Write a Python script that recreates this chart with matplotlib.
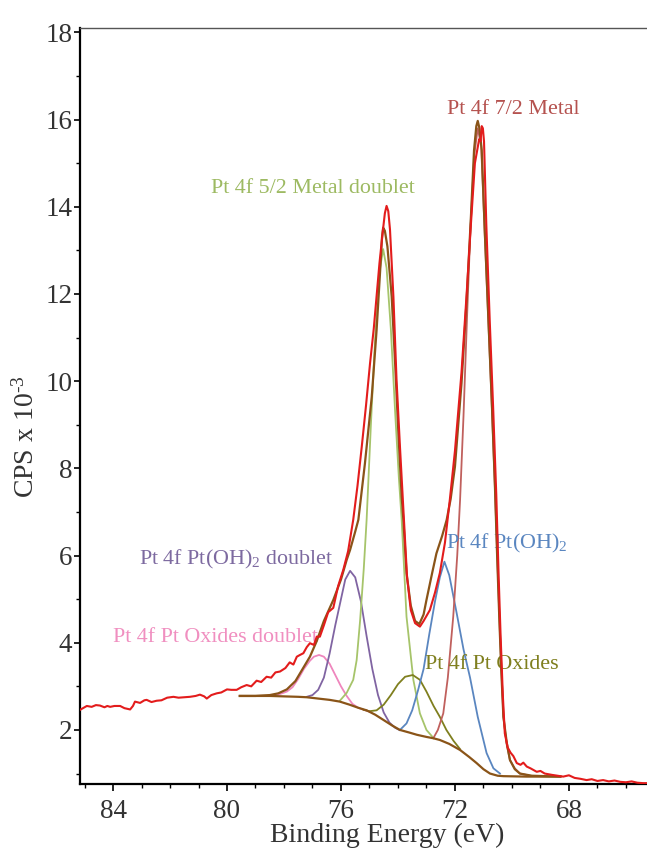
# coding:utf8
"""
Pt 4f XPS spectrum with fitted components
"""
from matplotlib import pyplot as plt
from matplotlib.ticker import MultipleLocator

# raw spectrum (binding energy, counts x 1e-3)
raw_be = [85.16, 85.0, 84.92, 84.75, 84.6, 84.46, 84.3, 84.2, 84.1, 83.95, 83.75, 83.6, 83.4, 83.3,
          83.23, 83.05, 82.9, 82.82, 82.65, 82.47, 82.3, 82.1, 81.88, 81.7, 81.5, 81.3, 81.1, 80.95,
          80.8, 80.71, 80.55, 80.36, 80.2, 80.0, 79.85, 79.66, 79.5, 79.31, 79.15, 78.96, 78.8, 78.61,
          78.45, 78.3, 78.14, 77.95, 77.8, 77.67, 77.55, 77.44, 77.32, 77.2, 77.09, 76.95, 76.85,
          76.74, 76.6, 76.45, 76.27, 76.1, 75.92, 75.75, 75.57, 75.42, 75.27, 75.12, 74.98, 74.85,
          74.75, 74.65, 74.54, 74.46, 74.4, 74.34, 74.28, 74.16, 74.05, 73.93, 73.79, 73.68, 73.55,
          73.4, 73.23, 73.1, 72.88, 72.7, 72.53, 72.35, 72.18, 72.0, 71.77, 71.59, 71.44, 71.3,
          71.15, 71.1, 71.06, 71.02, 70.98, 70.9, 70.78, 70.66, 70.55, 70.47, 70.4, 70.32, 70.25,
          70.15, 70.05, 69.95, 69.83, 69.7, 69.6, 69.48, 69.35, 69.13, 69.0, 68.85, 68.6, 68.4,
          68.2, 68.0, 67.8, 67.6, 67.38, 67.2, 67.0, 66.8, 66.6, 66.4, 66.2, 66.0, 65.8, 65.6,
          65.4, 65.26]
raw_cps = [2.46, 2.52, 2.55, 2.53, 2.57, 2.56, 2.52, 2.55, 2.53, 2.55, 2.55, 2.5, 2.47, 2.55,
           2.65, 2.62, 2.68, 2.69, 2.64, 2.67, 2.68, 2.74, 2.76, 2.74, 2.75, 2.76, 2.78, 2.81,
           2.77, 2.72, 2.8, 2.84, 2.86, 2.93, 2.92, 2.92, 2.98, 3.03, 3.0, 3.13, 3.1, 3.22,
           3.2, 3.32, 3.34, 3.42, 3.55, 3.5, 3.68, 3.72, 3.76, 3.9, 3.99, 3.95, 4.14,
           4.14, 4.4, 4.7, 4.8, 5.3, 5.67, 6.1, 6.82, 7.6, 8.5, 9.45, 10.41, 11.2,
           11.94, 12.7, 13.39, 13.85, 14.02, 13.9, 13.48, 11.94, 10.03, 8.5, 6.82, 5.5, 4.75,
           4.45, 4.37, 4.5, 4.75, 5.15, 5.6, 6.3, 7.28, 8.4, 10.2, 12.0, 13.6, 15.0,
           15.55, 15.5, 15.85, 15.8, 15.5, 13.6, 11.4, 9.4, 7.4, 5.6, 4.2, 2.8, 1.92,
           1.6, 1.48, 1.4, 1.24, 1.2, 1.25, 1.16, 1.12, 1.04, 1.06, 1.0, 0.97, 0.95,
           0.93, 0.96, 0.9, 0.88, 0.85, 0.87, 0.83, 0.85, 0.82, 0.84, 0.81, 0.8, 0.82, 0.79,
           0.78, 0.78]

# fitted envelope
env_be = [79.55, 79.0, 78.5, 78.2, 77.9, 77.6, 77.3, 77.09, 76.85, 76.6, 76.27, 76.0, 75.8, 75.68,
          75.5, 75.39, 75.16, 74.92, 74.75, 74.61, 74.56, 74.52, 74.46, 74.37, 74.22, 74.1, 73.99,
          73.87, 73.81, 73.7, 73.55, 73.4, 73.25, 73.1, 73.0, 72.8, 72.65, 72.45, 72.29, 72.15,
          72.0, 71.77, 71.59, 71.44, 71.33, 71.25, 71.2, 71.14, 71.06, 70.95, 70.83, 70.71, 70.6,
          70.52, 70.44, 70.37, 70.3, 70.18, 70.07, 69.9, 69.72, 69.3, 68.3]
env_cps = [2.78, 2.78, 2.8, 2.84, 2.93, 3.12, 3.45, 3.68, 4.04, 4.5, 4.98, 5.45, 5.9, 6.13,
           6.55, 6.82, 8.11, 9.64, 11.17, 12.7, 13.3, 13.52, 13.45, 13.09, 11.94, 10.41, 8.88,
           7.35, 6.82, 5.6, 4.85, 4.5, 4.43, 4.65, 4.98, 5.6, 6.05, 6.45, 6.82, 7.3,
           8.04, 9.95, 11.86, 13.77, 15.3, 15.85, 15.97, 15.8, 15.3, 13.39, 11.48, 9.57, 7.66,
           6.0, 4.5, 3.3, 2.3, 1.7, 1.31, 1.1, 1.0, 0.95, 0.93]

# background
bg_be = [79.55, 79.0, 78.5, 78.0, 77.5, 77.2, 76.8, 76.4, 76.04, 75.7, 75.4, 75.1, 74.8, 74.51,
         74.2, 73.93, 73.6, 73.34, 73.0, 72.76, 72.53, 72.2, 71.82, 71.5, 71.24, 71.0, 70.77,
         70.5, 70.3, 69.5, 68.3]
bg_cps = [2.78, 2.78, 2.78, 2.77, 2.76, 2.75, 2.72, 2.69, 2.65, 2.58, 2.51, 2.45, 2.35, 2.23,
          2.1, 2.0, 1.94, 1.89, 1.84, 1.81, 1.77, 1.68, 1.54, 1.38, 1.24, 1.1, 1.0,
          0.95, 0.94, 0.93, 0.93]

# components
oxd_be = [78.49, 78.2, 77.9, 77.7, 77.5, 77.3, 77.1, 76.95, 76.77, 76.6, 76.4, 76.2, 76.0, 75.8,
          75.6, 75.4, 75.2, 75.0]
oxd_cps = [2.78, 2.81, 2.88, 2.98, 3.17, 3.4, 3.58, 3.68, 3.72, 3.68, 3.52, 3.26, 3.0, 2.78,
           2.6, 2.51, 2.46, 2.42]

ohd_be = [77.2, 77.0, 76.8, 76.6, 76.4, 76.2, 76.0, 75.85, 75.68, 75.5, 75.3, 75.1, 74.9, 74.7,
          74.5, 74.3, 74.1, 73.95]
ohd_cps = [2.76, 2.8, 2.92, 3.2, 3.75, 4.4, 5.0, 5.45, 5.65, 5.5, 4.95, 4.15, 3.4, 2.8,
           2.4, 2.17, 2.05, 2.0]

m52_be = [76.04, 75.8, 75.57, 75.45, 75.33, 75.2, 75.1, 74.95, 74.8, 74.65, 74.52, 74.4, 74.25,
          74.1, 73.97, 73.87, 73.7, 73.46, 73.23, 73.0, 72.76]
m52_cps = [2.67, 2.85, 3.15, 3.6, 4.5, 5.7, 6.82, 9.0, 11.0, 12.5, 13.03, 12.6, 11.2,
           9.3, 7.8, 6.82, 4.6, 3.15, 2.38, 2.0, 1.82]

ox_be = [75.2, 75.0, 74.75, 74.5, 74.25, 74.0, 73.75, 73.48, 73.23, 73.0, 72.75, 72.53, 72.3,
         72.05, 71.82]
ox_cps = [2.46, 2.43, 2.45, 2.58, 2.8, 3.05, 3.22, 3.26, 3.15, 2.88, 2.55, 2.3, 2.0,
          1.75, 1.56]

oh_be = [73.93, 73.7, 73.5, 73.3, 73.1, 72.9, 72.7, 72.53, 72.37, 72.2, 71.94, 71.7, 71.47,
         71.2, 70.89, 70.65, 70.42]
oh_cps = [2.0, 2.15, 2.45, 2.9, 3.4, 4.2, 4.95, 5.5, 5.86, 5.55, 4.68, 3.85, 3.2,
          2.3, 1.47, 1.12, 1.0]

m72_be = [72.76, 72.6, 72.41, 72.25, 72.06, 71.92, 71.82, 71.7, 71.58, 71.45, 71.32, 71.2, 71.08,
          70.95, 70.83, 70.71, 70.6, 70.5, 70.42, 70.3, 70.18, 70.07, 69.9, 69.72, 69.37]
m72_cps = [1.81, 2.0, 2.38, 3.2, 4.6, 6.0, 7.28, 9.2, 11.4, 13.6, 15.2, 15.8, 15.4,
           13.3, 11.4, 9.5, 7.6, 5.7, 4.2, 2.3, 1.65, 1.31, 1.12, 1.0, 0.95]

x_ticks = [84, 80, 76, 72, 68]
y_ticks = [2, 4, 6, 8, 10, 12, 14, 16, 18]

BROWN = '#8a5418'

plt.rcParams['font.family'] = ['Liberation Serif', 'DejaVu Serif']
plt.rcParams['mathtext.fontset'] = 'custom'
plt.rcParams['mathtext.rm'] = 'Liberation Serif'
plt.rcParams['mathtext.it'] = 'Liberation Serif:italic'
plt.rcParams['mathtext.bf'] = 'Liberation Serif:bold'

fig = plt.figure(figsize=(6.47, 8.52), dpi=100)
ax = fig.add_axes([0.1236, 0.0798, 0.8764, 0.8873])

ax.plot(bg_be, bg_cps, color=BROWN, lw=1.6, zorder=3)
ax.plot(oxd_be, oxd_cps, color='#ef86bd', lw=1.3, zorder=2)
ax.plot(ohd_be, ohd_cps, color='#8064a2', lw=1.3, zorder=2)
ax.plot(m52_be, m52_cps, color='#a6c46a', lw=1.3, zorder=2)
ax.plot(ox_be, ox_cps, color='#7f7f1e', lw=1.3, zorder=2)
ax.plot(oh_be, oh_cps, color='#5a86c0', lw=1.3, zorder=2)
ax.plot(m72_be, m72_cps, color='#c0605d', lw=1.3, zorder=2)
ax.plot(env_be, env_cps, color=BROWN, lw=1.6, zorder=4)
ax.plot(raw_be, raw_cps, color='#e31c1c', lw=1.5, zorder=5)

# peak labels
lab = dict(fontsize=15.8, ha='center', va='center')
ax.text(69.96, 16.24, 'Pt 4f 7/2 Metal', color='#b5524f', **lab)
ax.text(77.0, 14.41, 'Pt 4f 5/2 Metal doublet', color='#9dba62', **lab)
ax.text(79.68, 5.9, 'Pt 4f Pt(OH)$_\\mathrm{2}$ doublet', color='#7d6aa0', **lab)
ax.text(70.18, 6.27, 'Pt 4f Pt(OH)$_\\mathrm{2}$', color='#5a86c0', **lab)
ax.text(80.42, 4.13, 'Pt 4f Pt Oxides doublet', color='#f08fc0', **lab)
ax.text(70.7, 3.49, 'Pt 4f Pt Oxides', color='#7f7f1e', **lab)

ax.set_xlim(85.16, 65.26)
ax.set_ylim(0.76, 18.1)
ax.set_xticks(x_ticks)
ax.set_yticks(y_ticks)
ax.xaxis.set_minor_locator(MultipleLocator(1))
ax.yaxis.set_minor_locator(MultipleLocator(1))
ax.tick_params(which='major', length=5, width=1.2, labelsize=19.5, labelcolor='#333333', pad=6)
ax.tick_params(which='minor', length=3, width=1.0)
ax.tick_params(axis='y', which='major', length=4, pad=1.5)

ax.spines['right'].set_visible(False)
ax.spines['left'].set_linewidth(1.6)
ax.spines['bottom'].set_linewidth(1.6)
ax.spines['top'].set_linewidth(1.0)
ax.spines['top'].set_color('#555555')

ax.set_xlabel('Binding Energy (eV)', fontsize=20, color='#333333')
ax.set_ylabel('CPS x 10$^\\text{-3}$', fontsize=20, color='#333333')
ax.xaxis.set_label_coords(0.541, -0.052)
ax.yaxis.set_label_coords(-0.072, 0.459)

plt.savefig('out.png', dpi=100)
